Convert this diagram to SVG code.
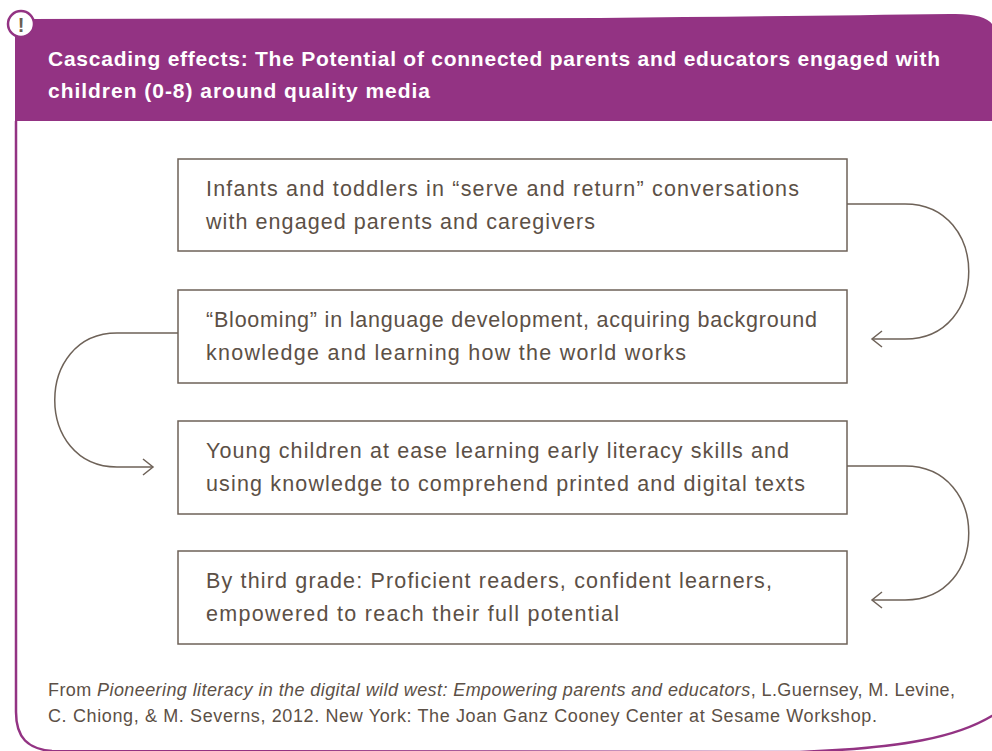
<svg xmlns="http://www.w3.org/2000/svg" width="992" height="751" viewBox="0 0 992 751">
  <style>
    .frame { fill: none; stroke: #933383; stroke-width: 2.5; }
    .box { fill: #ffffff; stroke: #6e6258; stroke-width: 1.5; }
    .txt { font-family: "Liberation Sans", Arial, sans-serif; font-size: 21.5px; fill: #5c5046; }
    .title { font-family: "Liberation Sans", Arial, sans-serif; font-size: 21px; font-weight: bold; fill: #ffffff; }
    .note { font-family: "Liberation Sans", Arial, sans-serif; font-size: 18px; fill: #5c5046; }
    .link { fill: none; stroke: #6e6258; stroke-width: 1.5; }
  </style>
  <defs>
    <marker id="chev" markerUnits="userSpaceOnUse" markerWidth="14" markerHeight="20" viewBox="-12 -10 14 20" refX="0" refY="0" orient="auto">
      <path d="M-10,-8 L0,0 L-10,8" fill="none" stroke="#6e6258" stroke-width="1.5"/>
    </marker>
  </defs>

  <rect width="992" height="751" fill="#ffffff"/>

  <!-- outer frame -->
  <path class="frame" d="M16,121 V712 C16,738 28,749 52,751 L800,752 C900,748 960,738 998,712"/>

  <!-- header band -->
  <g id="header">
    <path d="M15,121 V32 Q15,20 30,19 L600,18 Q800,16 950,14 Q984,13 992,24 V121 Z" fill="#933383"/>
    <text class="title" x="48" y="66" textLength="892" lengthAdjust="spacing">Cascading effects: The Potential of connected parents and educators engaged with</text>
    <text class="title" x="48" y="98" textLength="382" lengthAdjust="spacing">children (0-8) around quality media</text>
  </g>

  <!-- exclamation badge -->
  <g id="badge">
    <circle cx="21" cy="24" r="13" fill="#ffffff" stroke="#933383" stroke-width="2.5"/>
    <text x="21" y="32" text-anchor="middle" font-family="Liberation Sans, Arial, sans-serif" font-size="20" font-weight="bold" fill="#6b5e52">!</text>
  </g>

  <!-- connectors -->
  <g id="connectors">
    <path class="link" d="M847,204 H905 C990,204 990,339 905,339 H872" marker-end="url(#chev)"/>
    <path class="link" d="M178,333 H117 C34,333 34,467 117,467 H153" marker-end="url(#chev)"/>
    <path class="link" d="M847,466 H905 C990,466 990,600 905,600 H872" marker-end="url(#chev)"/>
  </g>

  <g id="step1">
    <rect class="box" x="178" y="159" width="669" height="92"/>
    <text class="txt" x="206" y="196" textLength="593" lengthAdjust="spacing">Infants and toddlers in “serve and return” conversations</text>
    <text class="txt" x="206" y="229" textLength="389" lengthAdjust="spacing">with engaged parents and caregivers</text>
  </g>

  <g id="step2">
    <rect class="box" x="178" y="290" width="669" height="93"/>
    <text class="txt" x="206" y="327" textLength="611" lengthAdjust="spacing">“Blooming” in language development, acquiring background</text>
    <text class="txt" x="206" y="360" textLength="480" lengthAdjust="spacing">knowledge and learning how the world works</text>
  </g>

  <g id="step3">
    <rect class="box" x="178" y="421" width="669" height="93"/>
    <text class="txt" x="206" y="458" textLength="583" lengthAdjust="spacing">Young children at ease learning early literacy skills and</text>
    <text class="txt" x="206" y="491" textLength="599" lengthAdjust="spacing">using knowledge to comprehend printed and digital texts</text>
  </g>

  <g id="step4">
    <rect class="box" x="178" y="551" width="669" height="93"/>
    <text class="txt" x="206" y="588" textLength="566" lengthAdjust="spacing">By third grade: Proficient readers, confident learners,</text>
    <text class="txt" x="206" y="621" textLength="413" lengthAdjust="spacing">empowered to reach their full potential</text>
  </g>

  <!-- source note -->
  <g id="source">
    <text class="note" x="48" y="696" textLength="907" lengthAdjust="spacing">From <tspan font-style="italic">Pioneering literacy in the digital wild west: Empowering parents and educators</tspan>,  L.Guernsey, M. Levine,</text>
    <text class="note" x="48" y="722" textLength="829" lengthAdjust="spacing">C. Chiong, &amp; M. Severns, 2012. New York: The Joan Ganz Cooney Center at Sesame Workshop.</text>
  </g>
</svg>
